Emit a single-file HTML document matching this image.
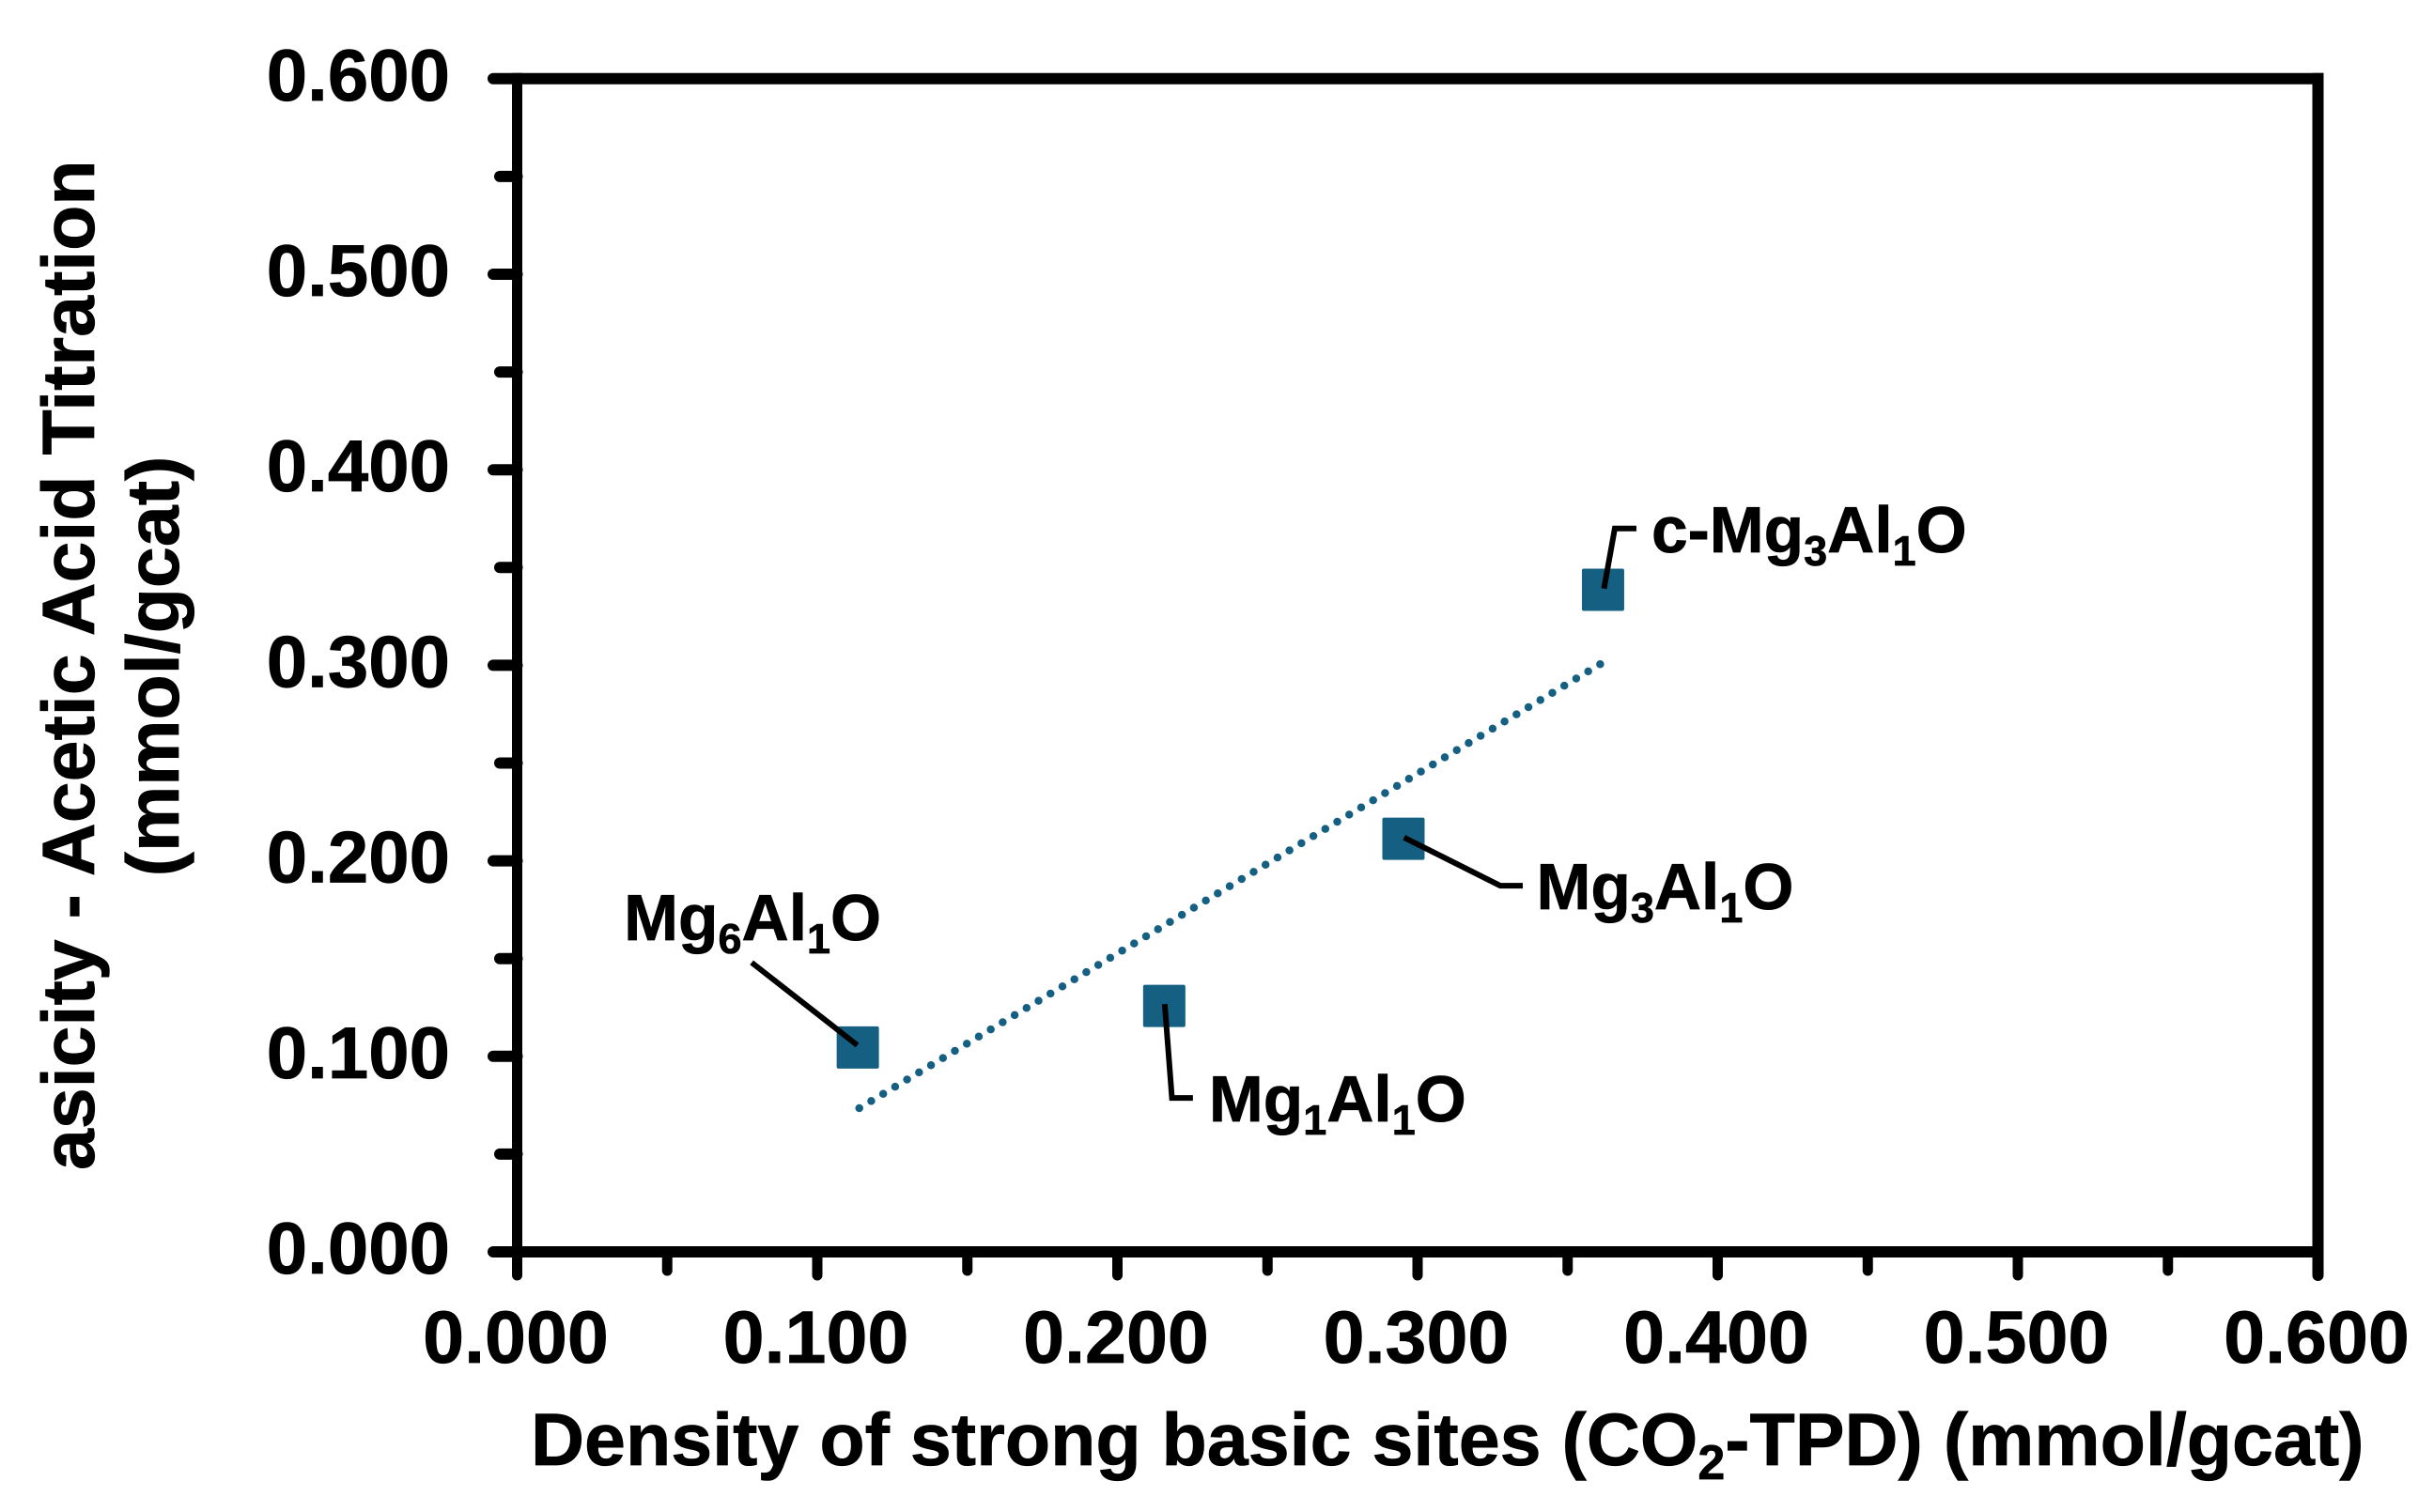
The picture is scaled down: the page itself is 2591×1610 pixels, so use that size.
<!DOCTYPE html>
<html lang="en">
<head>
<meta charset="utf-8">
<title>Basicity vs strong basic site density</title>
<style>
  html, body { margin: 0; padding: 0; background: #fff; }
  svg { display: block; }
  text { font-family: "Liberation Sans", Arial, sans-serif; font-weight: bold; fill: #000; stroke: #000; stroke-width: 0.7px; text-rendering: geometricPrecision; }
</style>
</head>
<body>
<svg id="chart" xmlns="http://www.w3.org/2000/svg" width="2591" height="1610" viewBox="0 0 2591 1610">
  <rect x="0" y="0" width="2591" height="1610" fill="#ffffff"/>
  <g id="axes"></g>
  <g id="marks"></g>
  <text x="565" y="1560" font-size="79">Density of strong basic sites (CO<tspan font-size="52" dy="15">2</tspan><tspan dy="-15">-TPD) (mmol/gcat)</tspan></text>
  <text transform="translate(100,1246) rotate(-90)" font-size="78.9">asicity - Acetic Acid Titration</text>
  <text transform="translate(190,709.5) rotate(-90)" text-anchor="middle" font-size="79">(mmol/gcat)</text>
</svg>
<script>
const xTickValues = [0, 0.1, 0.2, 0.3, 0.4, 0.5, 0.6];
const yTickValues = [0, 0.1, 0.2, 0.3, 0.4, 0.5, 0.6];
const xTickLabels = ['0.000', '0.100', '0.200', '0.300', '0.400', '0.500', '0.600'];
const yTickLabels = ['0.000', '0.100', '0.200', '0.300', '0.400', '0.500', '0.600'];
const xMinorTicks = [0.05, 0.15, 0.25, 0.35, 0.45, 0.55];
const yMinorTicks = [0.05, 0.15, 0.25, 0.35, 0.45, 0.55];
const sampleNames = ['Mg6Al1O', 'Mg1Al1O', 'Mg3Al1O', 'c-Mg3Al1O'];
const strongBasicSites = [0.1135, 0.2156, 0.2953, 0.3618];
const acidTitration = [0.1045, 0.1258, 0.2113, 0.3386];
const trendX = [0.1140, 0.3610];
const trendY = [0.0735, 0.3007];

const NS = 'http://www.w3.org/2000/svg';
const BLACK = '#000000';
const TEAL = '#156082';
const axesGroup = document.getElementById('axes');
const marksGroup = document.getElementById('marks');

function xScale(v) { return 550.5 + v * 3195; }
function yScale(v) { return 1333 - v * 2082; }

function makeLine(parent, x1, y1, x2, y2, width, cap) {
  const l = document.createElementNS(NS, 'line');
  l.setAttribute('x1', x1);
  l.setAttribute('y1', y1);
  l.setAttribute('x2', x2);
  l.setAttribute('y2', y2);
  l.setAttribute('stroke', BLACK);
  l.setAttribute('stroke-width', width);
  l.setAttribute('stroke-linecap', cap || 'butt');
  parent.appendChild(l);
  return l;
}

/* plot frame */
const frameLeft = makeLine(axesGroup, xScale(0), yScale(0.6) - 6, xScale(0), yScale(0) + 6, 11);


const frameRight = makeLine(axesGroup, xScale(0.6), yScale(0.6) - 6, xScale(0.6), yScale(0) + 6, 12);


const frameTop = makeLine(axesGroup, xScale(0), yScale(0.6), xScale(0.6) + 6, yScale(0.6), 12);


const frameBottom = makeLine(axesGroup, xScale(0), yScale(0), xScale(0.6) + 6, yScale(0), 12);



/* y ticks */
yTickValues.forEach(function (v, i) {
  const t = makeLine(axesGroup, 525, yScale(v), xScale(0), yScale(v), 12, 'round');
  
  
  const label = document.createElementNS(NS, 'text');
  
  
  label.setAttribute('x', 479);
  label.setAttribute('y', yScale(v) + 23);
  label.setAttribute('text-anchor', 'end');
  label.setAttribute('font-size', '78');
  label.textContent = yTickLabels[i];
  axesGroup.appendChild(label);
});
yMinorTicks.forEach(function (v) {
  const t = makeLine(axesGroup, 532, yScale(v), xScale(0), yScale(v), 12, 'round');
  
  
});

/* x ticks */
xTickValues.forEach(function (v, i) {
  const t = makeLine(axesGroup, xScale(v), yScale(0), xScale(v), 1358, i === 6 ? 12 : 11, 'round');
  
  
  const label = document.createElementNS(NS, 'text');
  
  
  label.setAttribute('x', xScale(v) - 1.5);
  label.setAttribute('y', 1451);
  label.setAttribute('text-anchor', 'middle');
  label.setAttribute('font-size', '79');
  label.textContent = xTickLabels[i];
  axesGroup.appendChild(label);
});
xMinorTicks.forEach(function (v) {
  const t = makeLine(axesGroup, xScale(v), yScale(0), xScale(v), 1353, 11, 'round');
  
  
});

/* dotted trendline */
const trend = document.createElementNS(NS, 'line');


trend.setAttribute('x1', xScale(trendX[0]));
trend.setAttribute('y1', yScale(trendY[0]));
trend.setAttribute('x2', xScale(trendX[1]));
trend.setAttribute('y2', yScale(trendY[1]));
trend.setAttribute('stroke', TEAL);
trend.setAttribute('stroke-width', '8.5');
trend.setAttribute('stroke-linecap', 'round');
trend.setAttribute('stroke-dasharray', '0 14.83');
marksGroup.appendChild(trend);

/* markers */
strongBasicSites.forEach(function (xv, i) {
  const r = document.createElementNS(NS, 'rect');
  
  
  r.setAttribute('x', xScale(xv) - 22.5);
  r.setAttribute('y', yScale(acidTitration[i]) - 22.5);
  r.setAttribute('width', '45');
  r.setAttribute('height', '45');
  r.setAttribute('rx', '2');
  r.setAttribute('fill', TEAL);
  marksGroup.appendChild(r);
});

/* leader lines and callout labels, placed relative to their marker */
function callout(i, labelDx, labelDy, leaderOffsets, parts) {
  const cx = xScale(strongBasicSites[i]);
  const cy = yScale(acidTitration[i]);
  const leader = document.createElementNS(NS, 'polyline');
  
  
  leader.setAttribute('points', leaderOffsets.map(function (p) { return (cx + p[0]) + ',' + (cy + p[1]); }).join(' '));
  leader.setAttribute('fill', 'none');
  leader.setAttribute('stroke', BLACK);
  leader.setAttribute('stroke-width', '6');
  marksGroup.appendChild(leader);

  const label = document.createElementNS(NS, 'text');
  
  
  label.setAttribute('x', cx + labelDx);
  label.setAttribute('y', cy + labelDy);
  label.setAttribute('font-size', '69.5');
  let wasSub = false;
  parts.forEach(function (part) {
    const span = document.createElementNS(NS, 'tspan');
    const isSub = part[1];
    if (isSub) { span.setAttribute('font-size', '45'); }
    if (isSub !== wasSub) { span.setAttribute('dy', isSub ? '14' : '-14'); }
    span.textContent = part[0];
    label.appendChild(span);
    wasSub = isSub;
  });
  marksGroup.appendChild(label);
}

callout(0, -249, -114.5, [[-0.5, -2.5], [-113, -90.5]],
  [['Mg', false], ['6', true], ['Al', false], ['1', true], ['O', false]]);
callout(1, 47.5, 123, [[0.5, -2], [8.2, 98], [30.5, 98]],
  [['Mg', false], ['1', true], ['Al', false], ['1', true], ['O', false]]);
callout(2, 141.5, 75, [[0.6, -1.3], [103, 50], [127, 50]],
  [['Mg', false], ['3', true], ['Al', false], ['1', true], ['O', false]]);
callout(3, 51.5, -40, [[1, -1.3], [12.5, -65.3], [35.5, -65.3]],
  [['c-Mg', false], ['3', true], ['Al', false], ['1', true], ['O', false]]);
</script>
</body>
</html>
